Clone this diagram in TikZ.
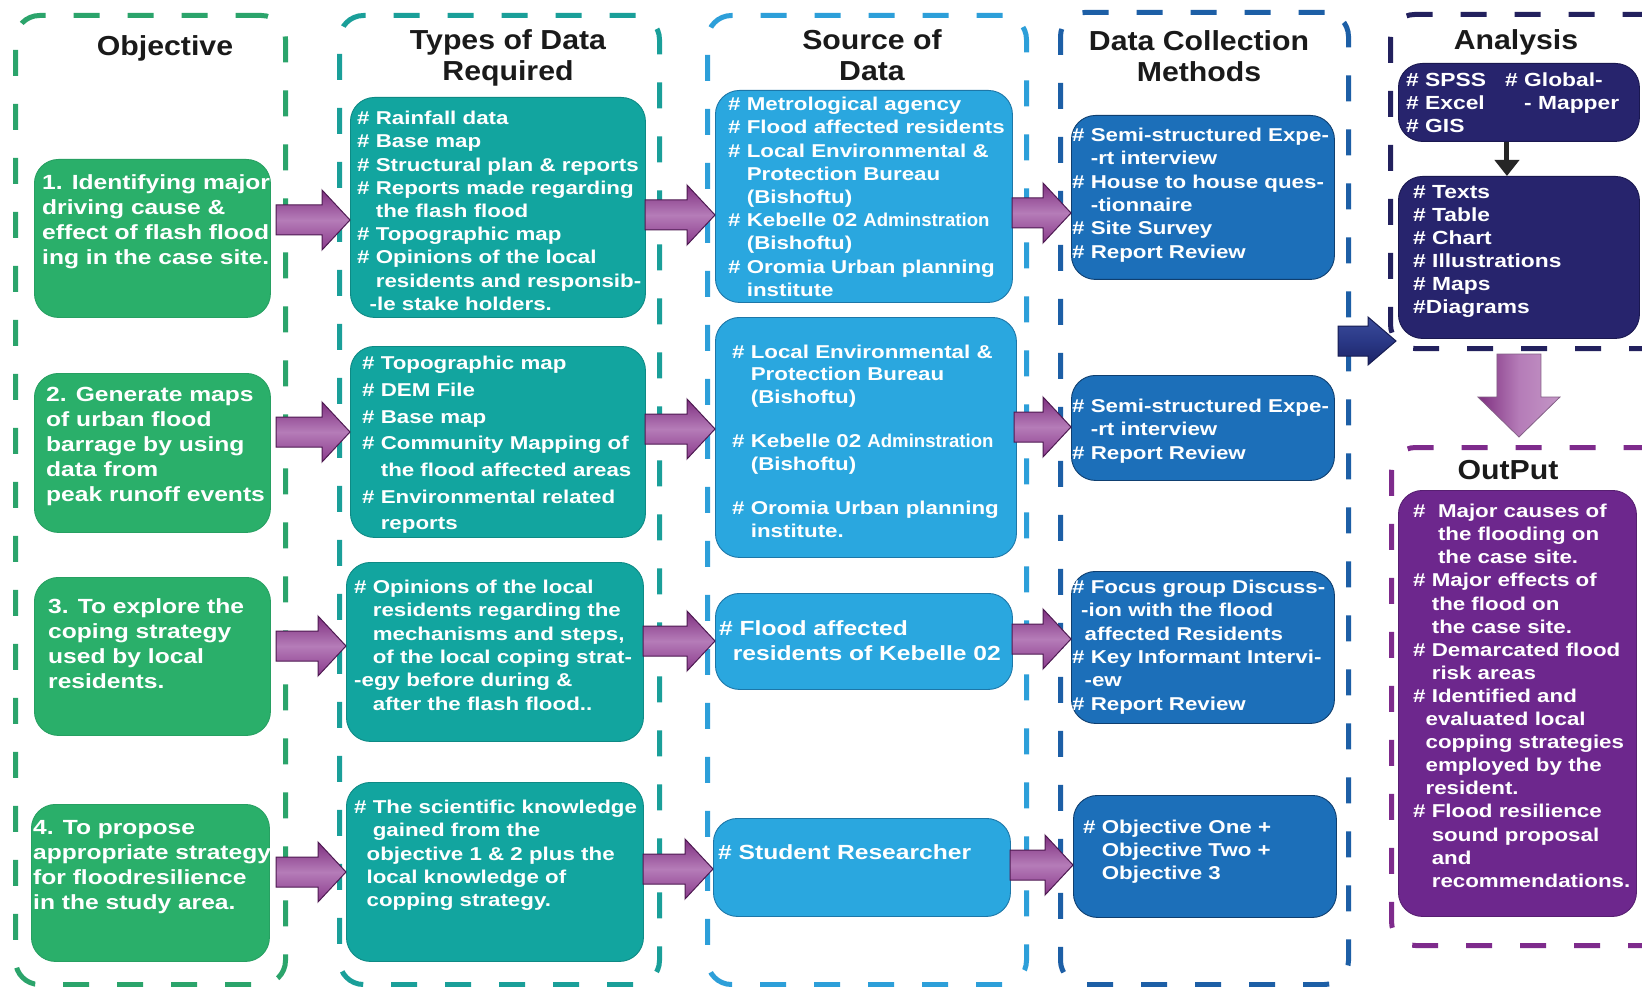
\documentclass[tikz,border=0pt]{standalone}
\usepackage{fontspec}
\setmainfont{Liberation Sans}
\newfontfamily\bodyf[FakeStretch=1.2]{Liberation Sans}
\newfontfamily\headf[FakeStretch=1.1]{Liberation Sans}
\newfontfamily\plainf{Liberation Sans}
\usetikzlibrary{arrows.meta,calc}

\definecolor{gfill}{HTML}{2AAF6A}
\definecolor{gedge}{HTML}{27A062}
\definecolor{tfill}{HTML}{12A59F}
\definecolor{tedge}{HTML}{0E8A85}
\definecolor{sfill}{HTML}{2AA7DF}
\definecolor{sedge}{HTML}{1D77A8}
\definecolor{dfill}{HTML}{1C6FB9}
\definecolor{dedge}{HTML}{0F3F70}
\definecolor{afill}{HTML}{27246D}
\definecolor{aedge}{HTML}{1A1850}
\definecolor{ofill}{HTML}{6D278D}
\definecolor{fr1c}{HTML}{2BA46B}
\definecolor{fr2c}{HTML}{1A9F99}
\definecolor{fr3c}{HTML}{2D9FD9}
\definecolor{fr4c}{HTML}{1D5FA6}
\definecolor{fr5c}{HTML}{23215E}
\definecolor{fr6c}{HTML}{7E2B8C}
\definecolor{pTop}{HTML}{7E2F7F}
\definecolor{pMid}{HTML}{B57CB8}
\definecolor{pBot}{HTML}{8A3A8B}
\definecolor{pEdge}{HTML}{4E1A52}
\definecolor{bTop}{HTML}{3B4C9B}
\definecolor{bMid}{HTML}{2A3886}
\definecolor{bBot}{HTML}{1B2366}
\definecolor{headc}{HTML}{1A1A1A}

\newcommand\hi{\hphantom{\# }}
\newcommand\hs{\hphantom{\#}}

% horizontal block arrow: start coordinate, tip coordinate
\newcommand\harrow[2]{%
  \path[parrow] let \p1=(#1), \p2=(#2) in
    (\x1,\y1+15pt) -- (\x2-28pt,\y1+15pt) -- (\x2-28pt,\y1+30pt) -- (\x2,\y1)
    -- (\x2-28pt,\y1-30pt) -- (\x2-28pt,\y1-15pt) -- (\x1,\y1-15pt) -- cycle;}
\newcommand\barrowpath[2]{%
  \path[bluearrow] let \p1=(#1), \p2=(#2) in
    (\x1,\y1+15pt) -- (\x2-28pt,\y1+15pt) -- (\x2-28pt,\y1+24pt) -- (\x2,\y1)
    -- (\x2-28pt,\y1-24pt) -- (\x2-28pt,\y1-15pt) -- (\x1,\y1-15pt) -- cycle;}
% vertical block arrow (downwards): start coordinate, tip coordinate
\newcommand\varrow[2]{%
  \path[dparrow] let \p1=(#1), \p2=(#2) in
    (\x1-22pt,\y1) -- (\x1+22pt,\y1) -- (\x1+22pt,\y2+40pt) -- (\x1+41pt,\y2+40pt)
    -- (\x1,\y2) -- (\x1-41pt,\y2+40pt) -- (\x1-22pt,\y2+40pt) -- cycle;}

\tikzset{
  frame/.style={line width=5pt, dash pattern=on 26pt off 28pt, rounded corners=24pt,
     inner sep=0pt, anchor=north west},
  box/.style={rounded corners=24pt, line width=0.9pt, inner sep=0pt, anchor=north west},
  gbox/.style={box, fill=gfill, draw=gedge},
  tbox/.style={box, fill=tfill, draw=tedge},
  sbox/.style={box, fill=sfill, draw=sedge},
  dbox/.style={box, fill=dfill, draw=dedge},
  abox/.style={box, fill=afill, draw=aedge},
  obox/.style={box, fill=ofill, draw=ofill!80!black},
  head/.style={text=headc, align=center, inner sep=0pt, anchor=north,
     font={\headf\bfseries\fontsize{27.5}{31.4}\selectfont}},
  txt/.style={text=white, align=left, inner sep=0pt, anchor=north west,
     font={\bodyf\bfseries\fontsize{18.6}{23.2}\selectfont}},
  bigtxt/.style={txt, font={\bodyf\bfseries\fontsize{20.5}{25}\selectfont}},
  parrow/.style={top color=pTop, bottom color=pBot, middle color=pMid, draw=pEdge, line width=1pt},
  bluearrow/.style={top color=bTop, bottom color=bBot, middle color=bMid, draw=bBot!80!black, line width=1pt},
  dparrow/.style={left color=pTop, right color=pMid!80!white, middle color=pMid, draw=pEdge!70, line width=0.8pt},
  blackarrow/.style={draw=black!85, line width=5pt, -{Triangle[width=24pt,length=16pt]}}
}

\begin{document}
\begin{tikzpicture}[x=1pt,y=-1pt]
\fill[white] (0,0) rectangle (1642,987);
\useasboundingbox (0,0) rectangle (1642,987);

% column frames
\node[frame, draw=fr1c, minimum width=270pt, minimum height=969pt] (fr1) at (13,13) {};
\node[frame, draw=fr2c, minimum width=320pt, minimum height=969pt] (fr2) at (337,13) {};
\node[frame, draw=fr3c, minimum width=319pt, minimum height=969pt] (fr3) at (705,13) {};
\node[frame, draw=fr4c, minimum width=288pt, minimum height=972pt] (fr4) at (1058,10) {};
\node[frame, draw=fr5c, minimum width=282pt, minimum height=334pt] (fr5) at (1388,12) {};
\node[frame, draw=fr6c, minimum width=282pt, minimum height=498pt] (fr6) at (1389,445) {};

% headers
\node[head] (h1) at (165,35) {Objective};
\node[head] (h2) at (508,29) {Types of Data\\Required};
\node[head] (h3) at (872,29) {Source of\\Data};
\node[head] (h4) at (1199,30) {Data Collection\\Methods};
\node[head] (h5) at (1516,29) {Analysis};
\node[head] (h6) at (1508,460) {OutPut};

% objective boxes
\node[gbox, minimum width=236pt, minimum height=158pt] (g1) at (34,159) {};
\node[gbox, minimum width=236pt, minimum height=159pt] (g2) at (34,373) {};
\node[gbox, minimum width=236pt, minimum height=158pt] (g3) at (34,577) {};
\node[gbox, minimum width=238pt, minimum height=157pt] (g4) at (31,804) {};
\node[bigtxt] (g1t) at (42,174) {1. Identifying major\\driving cause \&\\effect of flash flood\\ing in the case site.};
\node[bigtxt] (g2t) at (46,387) {2. Generate maps\\of urban flood\\barrage by using\\data from\\peak runoff events};
\node[bigtxt] (g3t) at (48,598) {3. To explore the\\coping strategy\\used by local\\residents.};
\node[bigtxt] (g4t) at (33,820) {4. To propose\\appropriate strategy\\for floodresilience\\in the study area.};

% types of data boxes
\node[tbox, minimum width=295pt, minimum height=220pt] (t1) at (350,97) {};
\node[tbox, minimum width=295pt, minimum height=191pt] (t2) at (350,346) {};
\node[tbox, minimum width=297pt, minimum height=179pt] (t3) at (346,562) {};
\node[tbox, minimum width=297pt, minimum height=179pt] (t4) at (346,782) {};
\node[txt] (t1t) at (357,111) {\# Rainfall data\\\# Base map\\\# Structural plan \& reports\\\# Reports made regarding\\\hi the flash flood\\\# Topographic map\\\# Opinions of the local\\\hi residents and responsib-\\\hs -le stake holders.};
\node[txt, font={\bodyf\bfseries\fontsize{18.6}{26.7}\selectfont}] (t2t) at (362,356) {\# Topographic map\\\# DEM File\\\# Base map\\\# Community Mapping of\\\hi the flood affected areas\\\# Environmental related\\\hi reports};
\node[txt, font={\bodyf\bfseries\fontsize{18.6}{23.3}\selectfont}] (t3t) at (354,580) {\# Opinions of the local\\\hi residents regarding the\\\hi mechanisms and steps,\\\hi of the local coping strat-\\-egy before during \&\\\hi after the flash flood..};
\node[txt, font={\bodyf\bfseries\fontsize{18.6}{23.3}\selectfont}] (t4t) at (354,800) {\# The scientific knowledge\\\hi gained from the\\\hs objective 1 \& 2 plus the\\\hs local knowledge of\\\hs copping strategy.};

% source boxes
\node[sbox, minimum width=297pt, minimum height=212pt] (s1) at (715,90) {};
\node[sbox, minimum width=301pt, minimum height=240pt] (s2) at (715,317) {};
\node[sbox, minimum width=297pt, minimum height=96pt] (s3) at (715,593) {};
\node[sbox, minimum width=297pt, minimum height=98pt] (s4) at (713,818) {};
\node[txt] (s1t) at (728,97) {\# Metrological agency\\\# Flood affected residents\\\# Local Environmental \&\\\hi Protection Bureau\\\hi (Bishoftu)\\\# Kebelle 02 {\plainf\bfseries Adminstration}\\\hi (Bishoftu)\\\# Oromia Urban planning\\\hi institute};
\node[txt, font={\bodyf\bfseries\fontsize{18.6}{22.3}\selectfont}] (s2t) at (732,345) {\# Local Environmental \&\\\hi Protection Bureau\\\hi (Bishoftu)\\[22.3pt]\# Kebelle 02 {\plainf\bfseries Adminstration}\\\hi (Bishoftu)\\[22.3pt]\# Oromia Urban planning\\\hi institute.};
\node[bigtxt] (s3t) at (719,620) {\# Flood affected\\\hs residents of Kebelle 02};
\node[bigtxt] (s4t) at (718,844) {\# Student Researcher};

% data collection boxes
\node[dbox, minimum width=263pt, minimum height=164pt] (d1) at (1071,115) {};
\node[dbox, minimum width=263pt, minimum height=105pt] (d2) at (1071,375) {};
\node[dbox, minimum width=263pt, minimum height=152pt] (d3) at (1071,571) {};
\node[dbox, minimum width=263pt, minimum height=122pt] (d4) at (1073,795) {};
\node[txt, font={\bodyf\bfseries\fontsize{18.6}{23.3}\selectfont}] (d1t) at (1072,128) {\# Semi-structured Expe-\\\hi -rt interview\\\# House to house ques-\\\hi -tionnaire\\\# Site Survey\\\# Report Review};
\node[txt, font={\bodyf\bfseries\fontsize{18.6}{23.3}\selectfont}] (d2t) at (1072,399) {\# Semi-structured Expe-\\\hi -rt interview\\\# Report Review};
\node[txt, font={\bodyf\bfseries\fontsize{18.6}{23.3}\selectfont}] (d3t) at (1072,580) {\# Focus group Discuss-\\\hspace*{9pt}-ion with the flood\\\hs affected Residents\\\# Key Informant Intervi-\\\hs -ew\\\# Report Review};
\node[txt, font={\bodyf\bfseries\fontsize{18.6}{23}\selectfont}] (d4t) at (1083,820) {\# Objective One +\\\hi Objective Two +\\\hi Objective 3};

% analysis boxes
\node[abox, minimum width=241pt, minimum height=78pt] (a1) at (1398,63) {};
\node[abox, minimum width=241pt, minimum height=162pt] (a2) at (1398,176) {};
\node[txt, font={\bodyf\bfseries\fontsize{19}{23}\selectfont}] (a1t) at (1406,73) {\# SPSS\\\# Excel\\\# GIS};
\node[txt, font={\bodyf\bfseries\fontsize{19}{23}\selectfont}] (a1u) at (1505,73) {\# Global-\\\hi - Mapper};
\node[txt, font={\bodyf\bfseries\fontsize{19}{23}\selectfont}] (a2t) at (1413,185) {\# Texts\\\# Table\\\# Chart\\\# Illustrations\\\# Maps\\\#Diagrams};

% output box
\node[obox, minimum width=238pt, minimum height=426pt] (o1) at (1398,490) {};
\node[txt, font={\bodyf\bfseries\fontsize{18.6}{23.1}\selectfont}] (o1t) at (1413,504) {\#\ \ Major causes of\\\hphantom{\#\ \ }the flooding on\\\hphantom{\#\ \ }the case site.\\\# Major effects of\\\hi the flood on\\\hi the case site.\\\# Demarcated flood\\\hi risk areas\\\# Identified and\\\hs evaluated local\\\hs copping strategies\\\hs employed by the\\\hs resident.\\\# Flood resilience\\\hi sound proposal\\\hi and\\\hi recommendations.};

% purple block arrows between columns
\coordinate (p11) at (276,220);
\coordinate (p12) at (276,432);
\coordinate (p13) at (276,646);
\coordinate (p14) at (276,872);
\harrow{p11}{t1.west |- p11}
\harrow{p12}{t2.west |- p12}
\harrow{p13}{t3.west |- p13}
\harrow{p14}{t4.west |- p14}
\coordinate (p21) at (645,215);
\coordinate (p22) at (645,429);
\coordinate (p23) at (643,641);
\coordinate (p24) at (643,869);
\harrow{p21}{s1.west |- p21}
\harrow{p22}{s2.west |- p22}
\harrow{p23}{s3.west |- p23}
\harrow{p24}{s4.west |- p24}
\coordinate (p31) at (1012,213);
\coordinate (p32) at (1014,427);
\coordinate (p33) at (1012,639);
\coordinate (p34) at (1010,865);
\harrow{p31}{d1.west |- p31}
\harrow{p32}{d2.west |- p32}
\harrow{p33}{d3.west |- p33}
\harrow{p34}{d4.west |- p34}

% navy arrow into analysis frame
\coordinate (b0) at (1338,341);
\coordinate (b1) at (1396,341);
\barrowpath{b0}{b1}

% analysis internal arrow
\draw[blackarrow] ($(a1.south)+(-12,0)$) -- ($(a2.north)+(-12,0)$);

% down arrow from analysis to output
\varrow{$(a2.south |- fr5.south)+(0,3)$}{$(a2.south |- fr6.north)+(0,-8)$}
\end{tikzpicture}
\end{document}
